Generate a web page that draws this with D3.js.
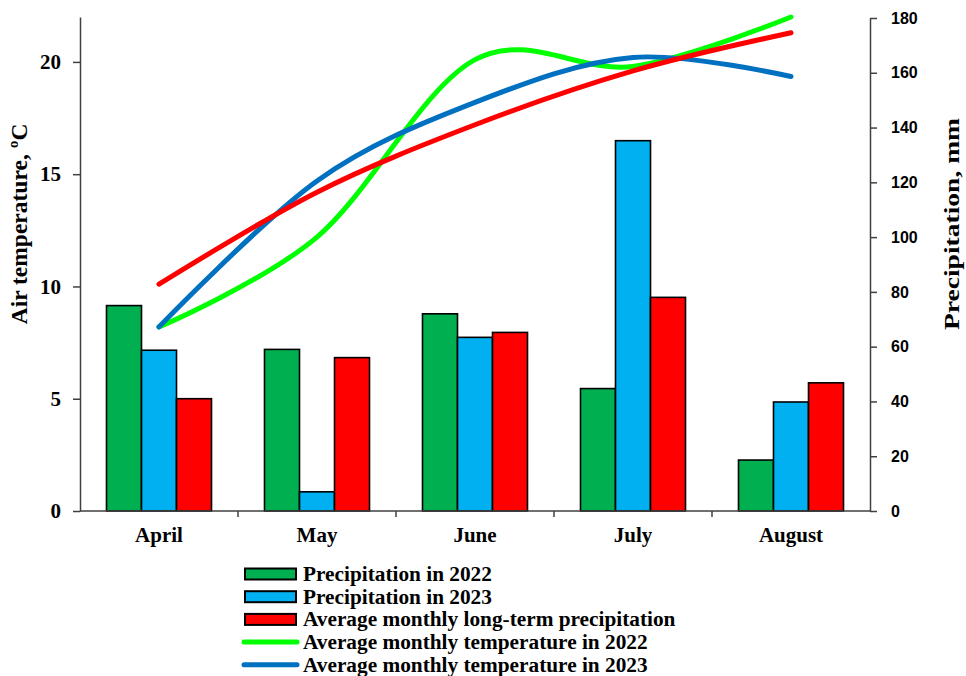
<!DOCTYPE html>
<html>
<head>
<meta charset="utf-8">
<script src="https://cdn.jsdelivr.net/npm/d3@7"></script>
<style>
  body { margin: 0; background: #fff; }
  svg text { font-family: "Liberation Serif", "Times New Roman", serif; font-weight: bold; fill: #000; }
  .axis path, .axis line { stroke: #404040; stroke-width: 1.5; }
  .axis text { font-size: 21px; }
  .axis.y-right text { font-family: "Liberation Sans", Arial, sans-serif; font-size: 16px; }
</style>
</head>
<body>
<div id="chart"></div>
<script>
// Data
const months = ["April", "May", "June", "July", "August"];
const precip2022 = [75, 59, 72, 44.7, 18.6];
const precip2023 = [58.7, 7, 63.4, 135.2, 39.8];
const precipLongTerm = [41, 56, 65.2, 78, 46.8];
const temp2022 = [8.2, 12.2, 20.1, 19.8, 22.0];
const temp2023 = [8.2, 14.7, 18.2, 20.2, 19.35];
const tempLongTerm = [10.1, 14.2, 17.2, 19.6, 21.3];
const tempTicks = [0, 5, 10, 15, 20];
const precipTicks = [0, 20, 40, 60, 80, 100, 120, 140, 160, 180];

const barSeries = [
  { name: "Precipitation in 2022", values: precip2022, color: "#00B050" },
  { name: "Precipitation in 2023", values: precip2023, color: "#00B0F0" },
  { name: "Average monthly long-term precipitation", values: precipLongTerm, color: "#FF0000" }
];
const lineSeries = [
  { name: "Average monthly temperature in 2022", values: temp2022, color: "#00FF00", legend: true },
  { name: "Average monthly temperature in 2023", values: temp2023, color: "#0070C0", legend: true },
  { name: "Long-term temperature", values: tempLongTerm, color: "#FF0000", legend: false }
];

const W = 966, H = 676;
const plot = { left: 80, right: 870, top: 17, bottom: 511 };

const svg = d3.select("#chart").append("svg").attr("width", W).attr("height", H);

// Scales
const x0 = d3.scaleBand().domain(months).range([plot.left, plot.right]).padding(0);
const x1 = d3.scaleBand().domain(d3.range(barSeries.length))
  .range([0, x0.bandwidth()]).paddingInner(0).paddingOuter(0.757);
const yTemp = d3.scaleLinear().domain([0, 22]).range([plot.bottom, plot.top]);
const yPrec = d3.scaleLinear().domain([0, 180]).range([plot.bottom, plot.top + 1]);

// Bars
barSeries.forEach((s, si) => {
  svg.append("g")
    .selectAll("rect")
    .data(s.values)
    .join("rect")
    .attr("x", (d, i) => x0(months[i]) + x1(si))
    .attr("y", (d) => yPrec(d))
    .attr("width", x1.bandwidth())
    .attr("height", (d) => yPrec(0) - yPrec(d))
    .attr("fill", s.color)
    .attr("stroke", "#000")
    .attr("stroke-width", 1.6);
});

// Temperature lines (smoothed like the spreadsheet curves)
const line = d3.line()
  .x((d, i) => x0(months[i]) + x0.bandwidth() / 2)
  .y((d) => yTemp(d))
  .curve(d3.curveCardinal.tension(0));

lineSeries.forEach((s) => {
  svg.append("path")
    .datum(s.values)
    .attr("d", line)
    .attr("fill", "none")
    .attr("stroke", s.color)
    .attr("stroke-width", 5)
    .attr("stroke-linecap", "round");
});

// Axes
const xAxis = d3.axisBottom(x0).tickSize(0).tickPadding(16);
const gx = svg.append("g")
  .attr("class", "axis x-axis")
  .attr("transform", `translate(0,${plot.bottom})`)
  .call(xAxis);
gx.select(".domain").attr("d", `M${plot.left},0H${plot.right}`);
// small ticks between categories
gx.selectAll(".sep")
  .data(months.slice(1))
  .join("line")
  .attr("class", "sep")
  .attr("x1", (d) => x0(d)).attr("x2", (d) => x0(d))
  .attr("y1", 0).attr("y2", 6);

svg.append("g")
  .attr("class", "axis y-left")
  .attr("transform", `translate(${plot.left},0)`)
  .call(d3.axisLeft(yTemp).tickValues(tempTicks).tickSize(7).tickPadding(12).tickSizeOuter(0));

svg.append("g")
  .attr("class", "axis y-right")
  .attr("transform", `translate(${plot.right},0)`)
  .call(d3.axisRight(yPrec).tickValues(precipTicks).tickSize(7).tickPadding(14).tickSizeOuter(0));

// Axis labels
svg.append("text")
  .attr("transform", "translate(27,224) rotate(-90)")
  .attr("text-anchor", "middle")
  .style("font-size", "23.5px")
  .text("Air temperature, ºC");

svg.append("text")
  .attr("transform", "translate(959,224) rotate(-90)")
  .attr("text-anchor", "middle")
  .attr("textLength", 212)
  .attr("lengthAdjust", "spacingAndGlyphs")
  .style("font-size", "21px")
  .text("Precipitation, mm");

// Legend
const legend = svg.append("g").attr("transform", "translate(244,574)");
const rowH = 22.7;
barSeries.forEach((s, i) => {
  const g = legend.append("g").attr("transform", `translate(0,${i * rowH})`);
  g.append("rect")
    .attr("x", 1).attr("y", -5.5).attr("width", 51).attr("height", 11)
    .attr("fill", s.color).attr("stroke", "#000").attr("stroke-width", 2);
  g.append("text").attr("x", 59).attr("y", 7).style("font-size", "21.3px").text(s.name);
});
lineSeries.filter((s) => s.legend).forEach((s, j) => {
  const i = barSeries.length + j;
  const g = legend.append("g").attr("transform", `translate(0,${i * rowH})`);
  g.append("line")
    .attr("x1", 0).attr("x2", 53).attr("y1", 0).attr("y2", 0)
    .attr("stroke", s.color).attr("stroke-width", 5).attr("stroke-linecap", "round");
  g.append("text").attr("x", 59).attr("y", 7).style("font-size", "21.3px").text(s.name);
});
</script>
</body>
</html>
